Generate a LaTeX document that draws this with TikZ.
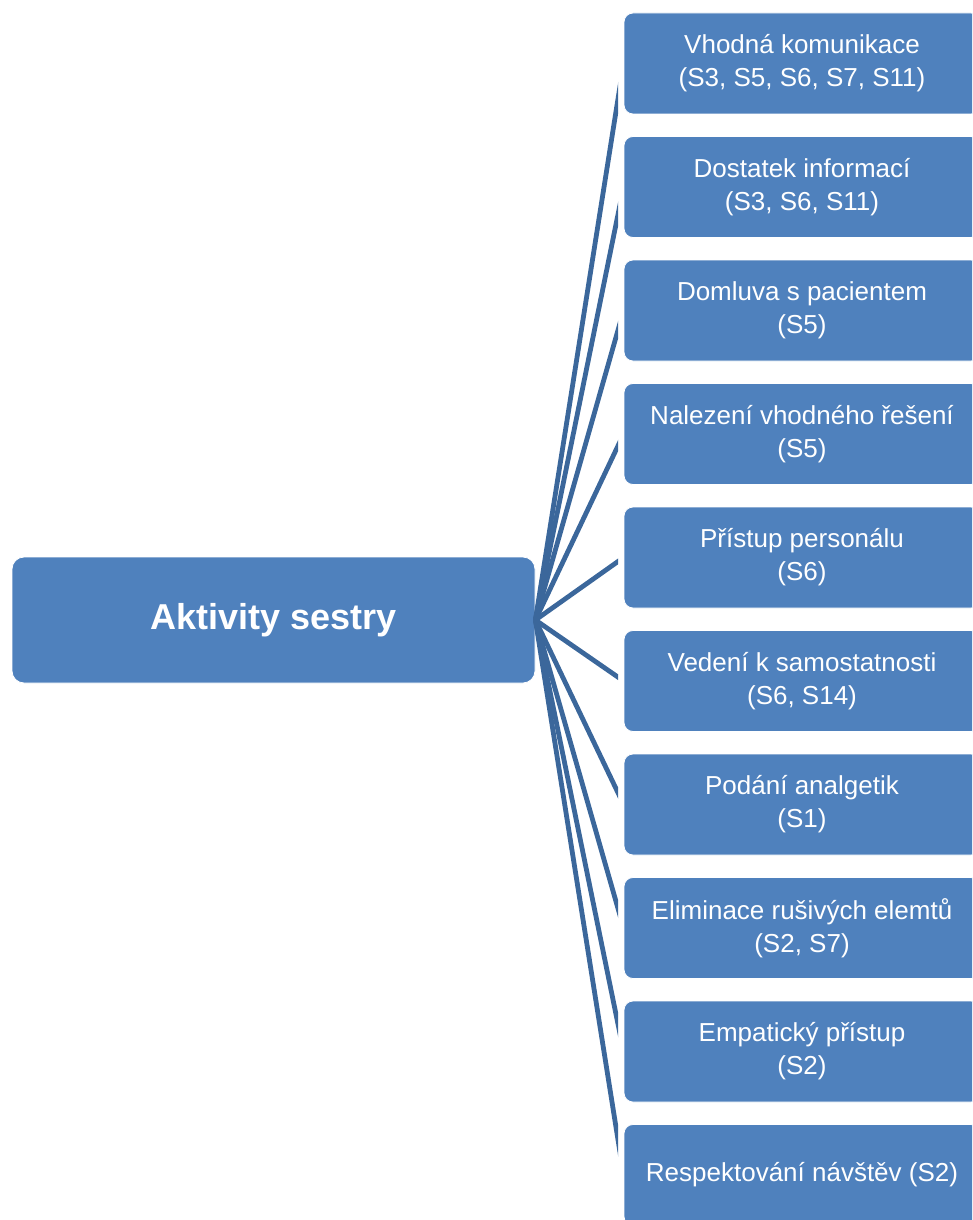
\documentclass[tikz,border=0pt]{standalone}
\usepackage{fontspec}
\setmainfont{Liberation Sans}
\definecolor{boxblue}{HTML}{4F81BD}
\definecolor{linkblue}{HTML}{3B679B}
\begin{document}
\begin{tikzpicture}[x=1pt,y=-1pt,
  item/.style={rectangle, rounded corners=9pt, fill=boxblue, draw=white,
    line width=0.8pt, minimum width=356pt, minimum height=101pt,
    inner sep=0pt, align=center, text=white,
    font=\fontsize{26}{33}\selectfont},
  rootbox/.style={rectangle, rounded corners=12pt, fill=boxblue, draw=white,
    line width=0.8pt, minimum width=523pt, minimum height=126pt,
    inner sep=0pt, align=center, text=white,
    font=\bfseries\fontsize{36}{40}\selectfont},
  link/.style={draw=linkblue, line width=4.8pt}]
\useasboundingbox (0,0) rectangle (972,1220);
\clip (0,0) rectangle (972,1220);

% central node
\node[rootbox] (root) at (273.5,620) {Aktivity sestry};

% activity boxes, 123.5pt apart
\node[item] (b1)  at (802,  63.5) {Vhodná komunikace\\(S3, S5, S6, S7, S11)};
\node[item] (b2)  at (802, 187.0) {Dostatek informací\\(S3, S6, S11)};
\node[item] (b3)  at (802, 310.5) {Domluva s pacientem\\(S5)};
\node[item] (b4)  at (802, 434.0) {Nalezení vhodného řešení\\(S5)};
\node[item] (b5)  at (802, 557.5) {Přístup personálu\\(S6)};
\node[item] (b6)  at (802, 681.0) {Vedení k samostatnosti\\(S6, S14)};
\node[item] (b7)  at (802, 804.5) {Podání analgetik\\(S1)};
\node[item] (b8)  at (802, 928.0) {Eliminace rušivých elemtů\\(S2, S7)};
\node[item] (b9)  at (802,1051.5) {Empatický přístup\\(S2)};
\node[item] (b10) at (802,1175.0) {Respektování návštěv (S2)};

% fan of connectors, cut off just short of the boxes
\begin{scope}
  \clip (0,0) rectangle (618,1220);
  \foreach \i in {1,...,10}
    \draw[link] (root.east) -- (b\i.west);
\end{scope}
\end{tikzpicture}
\end{document}
